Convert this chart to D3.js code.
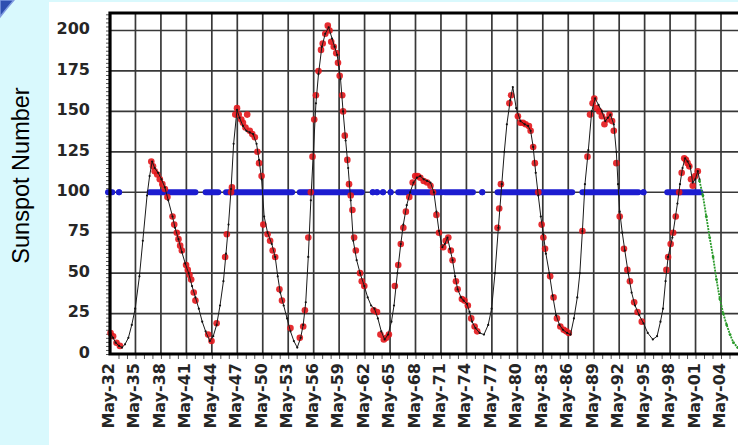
<!DOCTYPE html>
<html><head><meta charset="utf-8">
<script src="https://cdn.jsdelivr.net/npm/d3@7"></script>
<style>html,body{margin:0;padding:0;background:#d9f9fd;overflow:hidden}svg{display:block}</style>
</head><body>
<svg id="c" width="738" height="445"></svg>
<script>
// ---------- DATA ----------
const xTickLabels = ["May-32","May-35","May-38","May-41","May-44","May-47","May-50","May-53","May-56","May-59","May-62","May-65","May-68","May-71","May-74","May-77","May-80","May-83","May-86","May-89","May-92","May-95","May-98","May-01","May-04"];
const yTickLabels = ["0","25","50","75","100","125","150","175","200"];
const yAxisTitle = "Sunspot Number";

// smoothed sunspot number (black) [decimal year, value]
const smoothed = [[1932.37,13],[1932.7,10],[1933.0,7],[1933.4,5],[1933.75,4],[1934.1,6],[1934.5,10],[1934.9,18],[1935.3,28],[1935.8,48],[1936.2,70],[1936.7,98],[1937.0,110],[1937.3,119],[1937.6,115],[1938.0,112],[1938.4,108],[1938.8,103],[1939.2,95],[1939.7,85],[1940.0,78],[1940.4,71],[1940.8,63],[1941.2,56],[1941.6,50],[1942.0,42],[1942.4,35],[1942.8,28],[1943.2,20],[1943.6,14],[1944.1,8],[1944.5,11],[1944.9,18],[1945.3,30],[1945.7,45],[1946.0,62],[1946.3,80],[1946.6,102],[1946.9,130],[1947.3,151],[1947.6,146],[1948.0,141],[1948.4,138],[1948.8,137],[1949.2,136],[1949.6,130],[1949.9,120],[1950.2,108],[1950.5,85],[1950.9,75],[1951.4,68],[1951.8,60],[1952.1,48],[1952.4,38],[1952.8,30],[1953.2,22],[1953.6,14],[1954.0,8],[1954.4,4],[1954.8,10],[1955.1,18],[1955.4,32],[1955.7,60],[1956.0,95],[1956.3,125],[1956.6,155],[1956.9,173],[1957.3,190],[1957.7,198],[1958.1,202],[1958.5,195],[1958.8,190],[1959.1,185],[1959.5,170],[1959.8,150],[1960.1,132],[1960.4,115],[1960.7,95],[1961.0,70],[1961.4,58],[1961.8,50],[1962.3,42],[1962.7,35],[1963.1,30],[1963.5,28],[1963.9,22],[1964.3,14],[1964.7,9],[1965.1,12],[1965.5,20],[1965.8,30],[1966.2,50],[1966.6,68],[1966.9,80],[1967.3,92],[1967.7,100],[1968.1,106],[1968.5,109],[1968.9,110],[1969.3,108],[1969.7,107],[1970.1,106],[1970.5,100],[1970.8,88],[1971.1,76],[1971.5,66],[1971.8,68],[1972.1,72],[1972.4,65],[1972.7,58],[1973.0,48],[1973.3,40],[1973.7,35],[1974.0,33],[1974.4,31],[1974.7,26],[1975.0,20],[1975.4,16],[1975.9,13],[1976.4,12],[1976.9,18],[1977.3,28],[1977.7,50],[1978.1,78],[1978.5,105],[1978.8,125],[1979.1,142],[1979.5,157],[1979.8,165],[1980.2,152],[1980.7,144],[1981.2,142],[1981.6,141],[1981.9,138],[1982.2,128],[1982.5,112],[1982.8,98],[1983.1,85],[1983.4,74],[1983.7,62],[1984.1,50],[1984.5,36],[1984.9,24],[1985.3,18],[1985.7,15],[1986.2,13],[1986.6,12],[1987.0,22],[1987.4,35],[1987.7,50],[1988.0,76],[1988.3,105],[1988.7,126],[1989.1,150],[1989.5,158],[1989.9,154],[1990.3,150],[1990.7,144],[1991.0,146],[1991.3,148],[1991.7,142],[1992.0,125],[1992.2,105],[1992.4,88],[1992.7,75],[1993.0,64],[1993.4,50],[1993.8,38],[1994.2,30],[1994.7,24],[1995.2,19],[1995.7,13],[1996.3,9],[1996.8,11],[1997.2,20],[1997.5,28],[1997.8,45],[1998.1,60],[1998.6,72],[1999.2,93],[1999.5,105],[1999.8,115],[2000.1,121],[2000.4,119],[2000.7,116],[2001.0,106],[2001.3,108],[2001.6,113],[2001.8,108]];

// highlighted points (red)
const highlighted = [[1932.4,13],[1932.7,11],[1933.1,7],[1933.5,5],
[1937.2,119],[1937.4,116],[1937.6,113],[1937.9,111],[1938.2,108],[1938.5,105],[1938.8,102],[1939.1,97],[1939.7,85],[1939.9,80],[1940.2,75],[1940.4,71],[1940.6,67],[1940.8,64],[1941.3,55],[1941.5,52],[1941.7,49],[1941.9,46],[1942.2,38],[1942.4,33],
[1943.9,12],[1944.3,8],[1944.9,19],
[1945.9,60],[1946.1,74],[1946.6,100],[1946.7,103],
[1947.1,148],[1947.3,152],[1947.5,148],[1947.8,145],[1948.0,143],[1948.3,140],[1948.5,148],[1948.8,138],[1949.1,136],[1949.4,134],[1949.7,125],[1949.9,118],[1950.2,110],[1950.4,80],[1950.9,74],[1951.2,70],[1951.5,64],[1951.8,60],[1952.3,40],[1952.6,33],
[1953.6,16],[1954.7,10],[1955.1,17],[1955.3,27],
[1955.7,72],[1956.0,100],[1956.2,122],[1956.4,145],[1956.6,160],[1956.9,175],[1957.2,188],[1957.4,192],[1957.7,198],[1958.0,203],[1958.2,200],[1958.4,193],[1958.7,190],[1959.0,186],[1959.2,180],[1959.4,172],[1959.7,160],[1959.8,150],[1960.0,135],[1960.3,120],[1960.5,105],[1960.7,98],[1960.9,89],[1961.1,72],[1961.3,64],[1961.8,50],[1962.0,45],[1962.3,42],[1963.4,27],[1963.8,26],
[1964.2,12],[1964.6,9],[1964.9,10],[1965.2,12],
[1965.9,42],[1966.3,55],[1966.6,68],[1966.9,78],[1967.2,88],[1967.6,97],
[1968.0,106],[1968.3,110],[1968.6,110],[1968.9,109],[1969.3,107],[1969.7,106],[1970.1,104],[1970.4,100],
[1970.8,86],[1971.1,75],[1971.6,66],[1971.9,70],[1972.2,72],[1972.5,64],[1972.7,58],[1973.1,45],[1973.3,40],[1973.8,34],[1974.1,33],[1974.5,30],[1974.9,22],[1975.3,17],[1975.6,14],
[1978.0,78],[1978.2,90],[1978.4,105],[1979.4,155],[1979.6,160],
[1980.4,147],[1980.7,143],[1981.0,143],[1981.3,142],[1981.7,141],[1981.9,138],
[1982.2,128],[1982.4,118],[1982.8,100],[1983.2,80],[1983.4,72],[1983.6,65],[1984.2,48],[1984.6,35],[1985.0,22],[1985.4,17],[1985.8,15],[1986.1,14],[1986.4,13],
[1988.0,76],[1988.6,122],[1988.9,148],[1989.2,155],[1989.4,158],[1989.7,152],[1990.0,150],[1990.3,147],[1990.6,142],[1990.9,145],[1991.2,148],[1991.5,144],[1991.7,138],[1992.0,118],
[1992.4,85],[1992.9,65],[1993.3,52],[1993.6,45],[1994.1,32],[1994.5,26],[1995.0,20],
[1997.9,52],[1998.1,60],[1998.4,68],[1998.7,75],[1999.0,85],[1999.4,100],
[1999.7,112],[2000.0,121],[2000.2,120],[2000.4,118],[2000.6,116],[2000.8,108],[2001.0,104],[2001.3,110],[2001.6,113]];

// predicted decline (green)
const predicted = [[2001.8,107],[2002.2,98],[2002.6,85],[2003.0,72],[2003.4,60],[2003.8,46],[2004.2,34],[2004.6,25],[2005.0,18],[2005.4,12],[2005.8,7],[2006.3,4]];

// marker band at value 100 (blue): [start year, end year]
const bandLevel = 100;
const bandSpans = [[1932.1,1932.6],[1933.4,1933.4],[1937.0,1942.4],[1943.6,1945.1],[1946.0,1953.8],[1954.7,1962.0],[1963.3,1963.3],[1963.8,1963.8],[1964.5,1964.5],[1965.4,1965.4],[1966.3,1971.5],[1971.8,1975.1],[1976.2,1976.2],[1978.0,1986.8],[1988.0,1994.6],[1995.2,1995.2],[1998.0,2001.9]];

// ---------- CHART ----------
(function(){
const svg = d3.select("#c");
const W = 738, H = 445;
const pLeft = 110, pTop = 13, pBottom = 354, pRight = 760;

function labelYear(l){ const yy = +l.slice(4); return (yy > 10 ? 1900 + yy : 2000 + yy) + 4/12; }

const x = d3.scaleLinear().domain([labelYear(xTickLabels[0]), labelYear(xTickLabels[xTickLabels.length-1])]).range([110, 721]);
const y = d3.scaleLinear().domain([0, 200]).range([pBottom, 30.5]);

// white panel
svg.append("rect").attr("x",49).attr("y",2).attr("width",W-49).attr("height",H-2).attr("fill","#fff");
// corner decoration
svg.append("path").attr("d","M0,0 L14,0 Q7,8 0,17 Z").attr("fill","#2f4fb0").attr("stroke","#7f9be0").attr("stroke-width",1.5);

// gridlines
const g = svg.append("g");
g.selectAll(".hg").data(yTickLabels.slice(1)).join("line").attr("class","hg")
  .attr("x1",pLeft).attr("x2",pRight).attr("y1",d=>y(+d)).attr("y2",d=>y(+d))
  .attr("stroke","#383838").attr("stroke-width",1.7);
g.selectAll(".vg").data(xTickLabels.slice(1)).join("line").attr("class","vg")
  .attr("x1",d=>x(labelYear(d))).attr("x2",d=>x(labelYear(d))).attr("y1",pTop).attr("y2",pBottom)
  .attr("stroke","#383838").attr("stroke-width",1.7);

// minor ticks on y axis
svg.append("g").attr("transform",`translate(${pLeft},0)`)
  .call(d3.axisLeft(y).tickValues(d3.range(0, 210.1, 2.5)).tickSize(4).tickFormat(""))
  .call(s=>s.select(".domain").remove())
  .call(s=>s.selectAll("line").attr("stroke","#555").attr("stroke-width",1));
// minor ticks on x axis (yearly)
svg.append("g").attr("transform",`translate(0,${pBottom})`)
  .call(d3.axisBottom(x).tickValues(d3.range(1933, 2007, 1).map(v=>v+4/12)).tickSize(5).tickFormat(""))
  .call(s=>s.select(".domain").remove())
  .call(s=>s.selectAll("line").attr("stroke","#555").attr("stroke-width",1));

// y tick labels
svg.append("g").selectAll("text").data(yTickLabels).join("text")
  .attr("x",90).attr("y",d=>y(+d)-2).attr("dy","0.36em").attr("text-anchor","end")
  .attr("font-family","DejaVu Sans").attr("font-weight","bold").attr("font-size",16)
  .attr("fill","#262626").text(d=>d);

// x tick labels
svg.append("g").selectAll("text").data(xTickLabels).join("text")
  .attr("transform",d=>`translate(${x(labelYear(d))+4},363) rotate(-90)`)
  .attr("text-anchor","end")
  .attr("font-family","DejaVu Sans").attr("font-weight","bold").attr("font-size",16)
  .attr("fill","#262626").text(d=>d);

// y axis title
svg.append("text").attr("transform","translate(29,175.5) rotate(-90)")
  .attr("text-anchor","middle").attr("font-family","Liberation Sans, Arial, sans-serif")
  .attr("font-size",23.5).attr("fill","#000").text(yAxisTitle);

// blue band
const band = svg.append("g");
band.selectAll("line").data(bandSpans).join("line")
  .attr("x1",d=>x(d[0])).attr("x2",d=>x(d[1])).attr("y1",y(bandLevel)).attr("y2",y(bandLevel))
  .attr("stroke","#1c1cd0").attr("stroke-width",6).attr("stroke-linecap","round");
band.selectAll("circle").data(bandSpans.filter(d=>d[0]===d[1])).join("circle")
  .attr("cx",d=>x(d[0])).attr("cy",y(bandLevel)).attr("r",3).attr("fill","#1c1cd0");

// red points
svg.append("g").selectAll("circle").data(highlighted).join("circle")
  .attr("cx",d=>x(d[0])).attr("cy",d=>y(d[1])).attr("r",3.3).attr("fill","#e3161b").attr("opacity",0.9);

// black line
const line = d3.line().x(d=>x(d[0])).y(d=>y(d[1]));
svg.append("path").datum(smoothed).attr("d",line).attr("fill","none").attr("stroke","#1a1a1a").attr("stroke-width",1);
svg.append("g").selectAll("circle").data(smoothed).join("circle")
  .attr("cx",d=>x(d[0])).attr("cy",d=>y(d[1])).attr("r",1.1).attr("fill","#111");

// green line
svg.append("path").datum(predicted).attr("d",line).attr("fill","none").attr("stroke","#2a9a2a").attr("stroke-width",1.8).attr("stroke-dasharray","2 1");
svg.append("g").selectAll("circle").data(predicted).join("circle")
  .attr("cx",d=>x(d[0])).attr("cy",d=>y(d[1])).attr("r",1.4).attr("fill","#2a9a2a");

// frame
svg.append("path").attr("d",`M${pRight},${pTop} L${pLeft},${pTop} L${pLeft},${pBottom} L${pRight},${pBottom}`)
  .attr("fill","none").attr("stroke","#000").attr("stroke-width",3.2);
})();
</script>
</body></html>
